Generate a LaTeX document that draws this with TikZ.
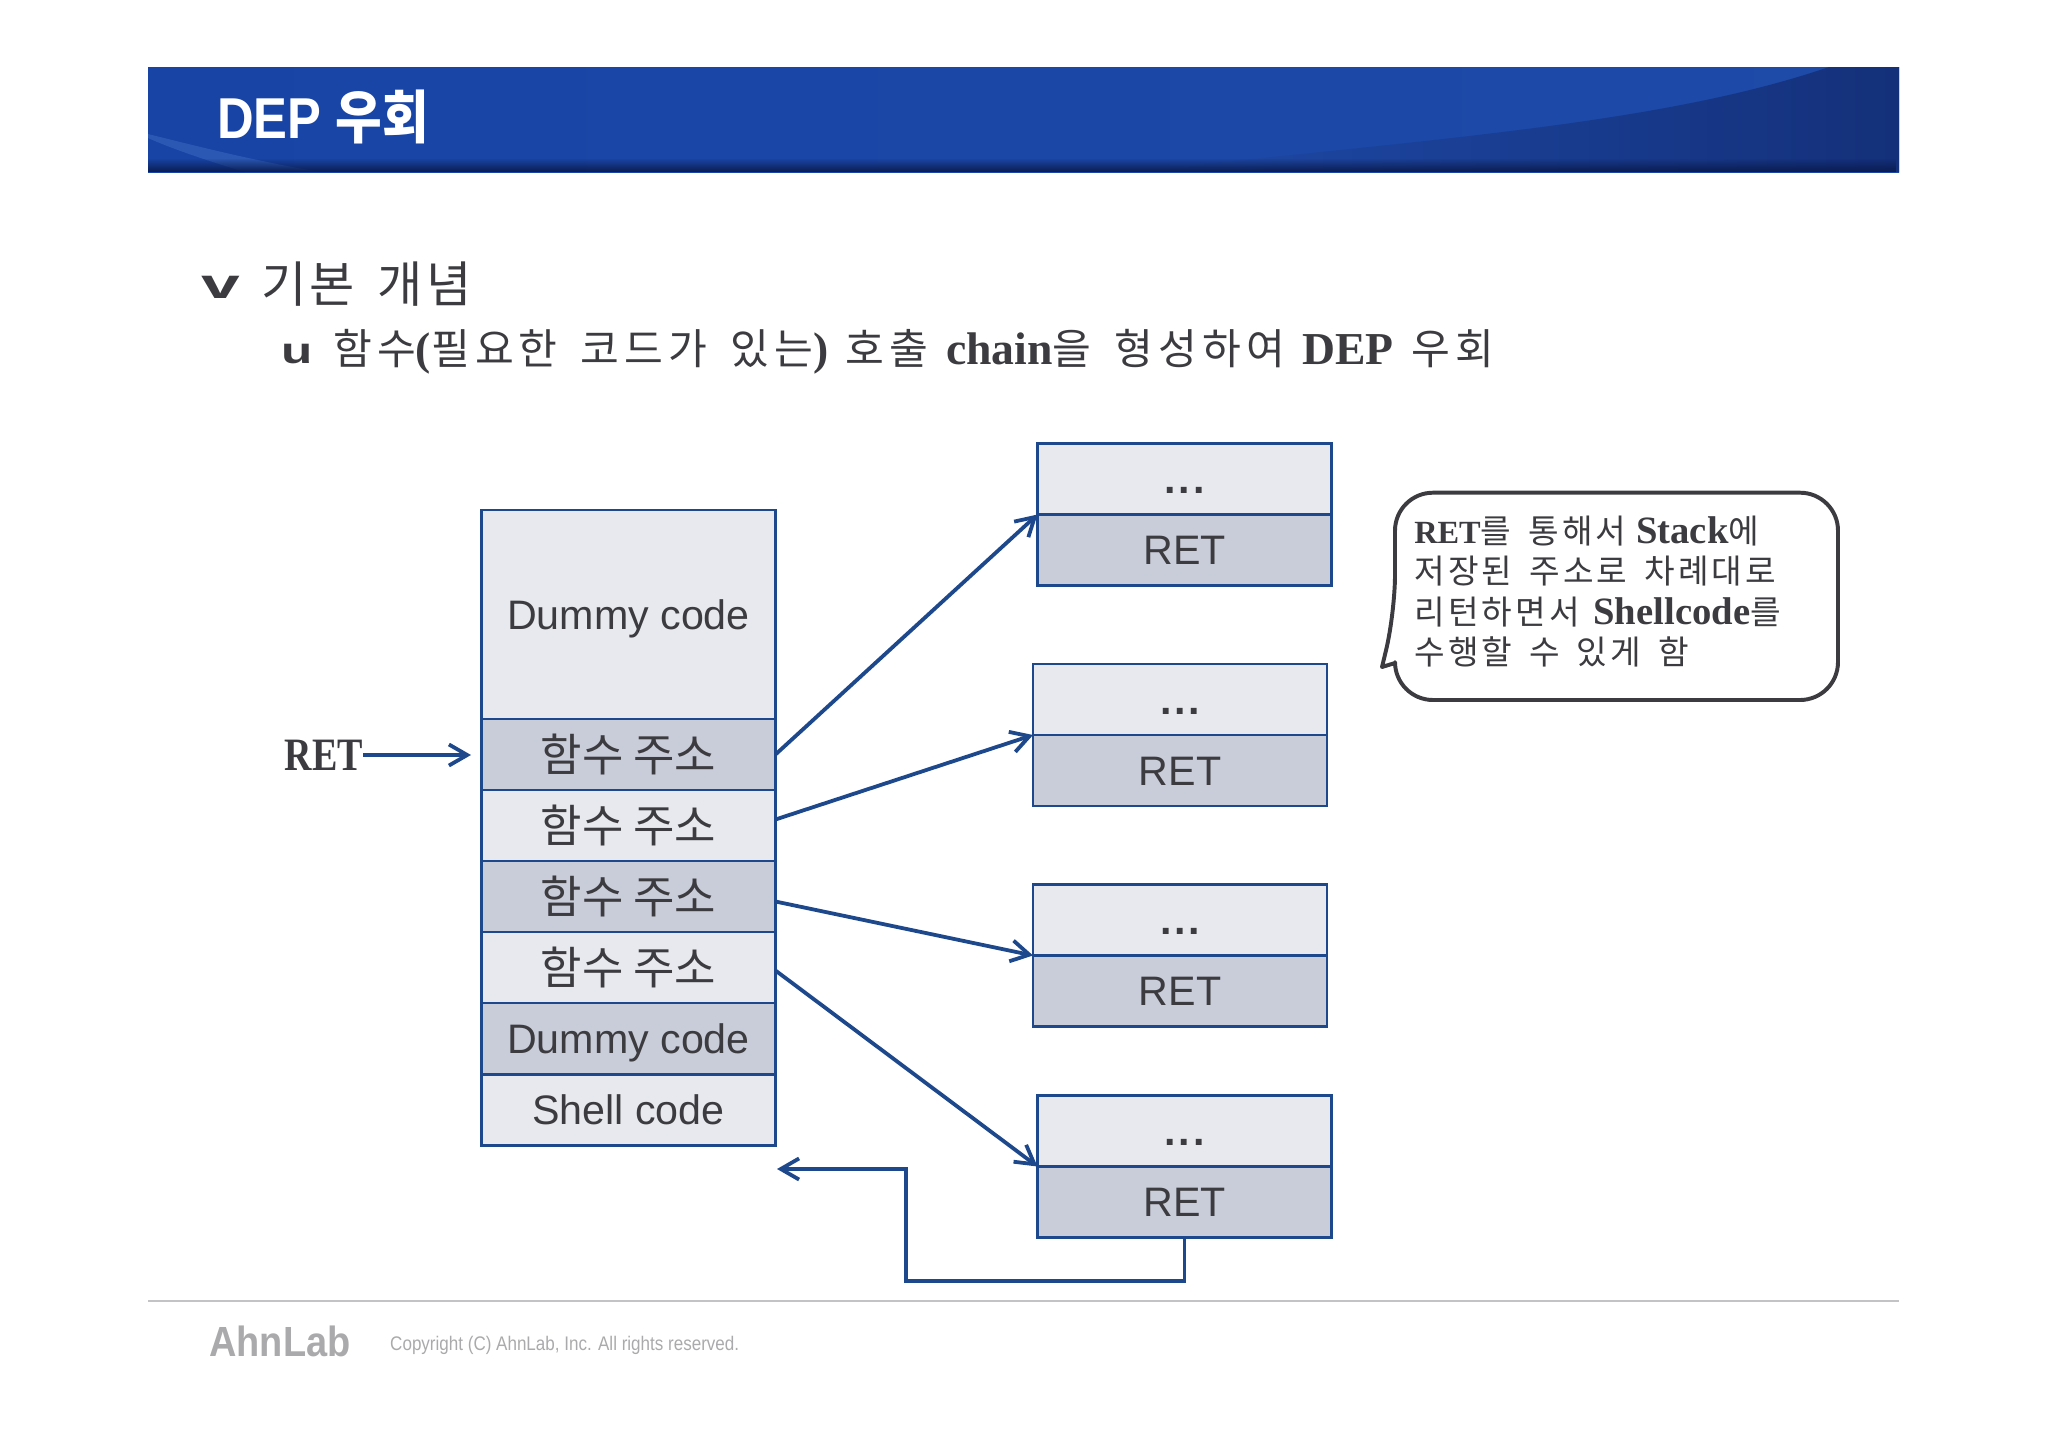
\documentclass[tikz,border=0pt]{standalone}
\usepackage{fontspec}
\usepackage{xcolor}
\usepackage{tikz}
\usetikzlibrary{arrows.meta, calc, fadings}
\setmainfont{Liberation Serif}
\setsansfont{Liberation Sans}
\newfontfamily\kotopic[LetterSpace=6.5,WordSpace=1.6]{Noto Sans CJK KR}
\newfontfamily\kosub[Scale=0.923,LetterSpace=12,WordSpace=1.6]{Noto Sans CJK KR}
\newfontfamily\konote[Scale=0.86,LetterSpace=9.5,WordSpace=1.6]{Noto Sans CJK KR}
\newfontfamily\kortight{Noto Sans CJK KR}
\newcommand{\kos}[1]{{\kosub\mdseries #1}}
\newcommand{\kon}[1]{{\konote\mdseries #1}}
\definecolor{hdrleft}{RGB}{24,68,166}
\definecolor{hdrmid}{RGB}{30,74,168}
\definecolor{hdrdark}{RGB}{20,48,122}
\definecolor{hdrbot}{RGB}{10,28,80}
\definecolor{hdrglow}{RGB}{70,120,200}
\definecolor{edgeblue}{RGB}{30,72,140}
\definecolor{inkgray}{RGB}{60,60,64}
\definecolor{cellpale}{RGB}{232,233,238}
\definecolor{celldark}{RGB}{201,205,217}
\definecolor{logogray}{RGB}{170,170,172}

\begin{document}
\begin{tikzpicture}[x=0.025cm, y=-0.025cm, >={Straight Barb[length=13pt,width=15pt]}]
  \tikzstyle{cellbox} = [rectangle, draw=edgeblue, line width=1.8pt, outer sep=0pt, inner sep=0pt, minimum width=294*0.711pt, text height=21pt, text depth=0pt, font=\fontsize{29.3}{32}\sffamily\color{inkgray}]
  \tikzstyle{pale} = [cellbox, fill=cellpale]
  \tikzstyle{dark} = [cellbox, fill=celldark]
  \tikzstyle{link} = [->, line width=2.7pt, edgeblue]
  \tikzstyle{funclabel} = [font=\fontsize{32}{34}\color{inkgray}]
  \useasboundingbox (0,0) rectangle (2048,1447);

  % Header band
  \begin{scope}
    \clip (148,67) rectangle (1899,172);
    \shade[left color=hdrleft, right color=hdrmid] (148,67) rectangle (1899,172);
    \shade[left color=hdrmid, right color=hdrdark] (1130,172) .. controls (1420,140) and (1660,125) .. (1829,67) -- (1899,67) -- (1899,172) -- cycle;
    \fill[hdrglow, opacity=0.4] (148,134) .. controls (200,147) and (260,162) .. (320,172) -- (245,172) .. controls (205,160) and (170,148) .. (148,138) -- cycle;
    \fill[hdrbot, path fading=north] (148,158) rectangle (1899,172);
  \end{scope}
  \node [anchor=west, xscale=0.88, text=white, inner sep=0pt, font=\fontsize{41}{43}\sffamily\bfseries] (title) at (217,117) {DEP {\kortight\bfseries 우회}};

  % Bullet lines
  \node [anchor=center, xscale=1.65, text=inkgray, inner sep=0pt, font=\fontsize{30}{32}\sffamily\bfseries] (bullet1) at (221,287) {v};
  \node [anchor=west, text=inkgray, inner sep=0pt, font=\fontsize{35}{38}] (topic) at (261,284) {\kotopic 기본 개념};
  \node [anchor=center, xscale=1.4, text=inkgray, inner sep=0pt, font=\fontsize{26}{28}\sffamily\bfseries] (bullet2) at (297,354) {u};
  \node [anchor=west, text=inkgray, inner sep=0pt, font=\fontsize{32.5}{34}\bfseries] (subtopic) at (333,352) {\kos{함수}(\kos{필요한 코드가 있는})\hspace{0.38em}\kos{호출}\hspace{0.38em}chain\kos{을 형성하여}\hspace{0.38em}DEP\hspace{0.38em}\kos{우회}};

  % Stack column
  \node [pale, minimum height=209*0.711pt] (dummy) at (628.5,614.5) {Dummy code};
  \node [dark, minimum height=71*0.711pt] (func1) at (628.5,754.5) {};
  \node [pale, minimum height=71*0.711pt] (func2) at (628.5,825.5) {};
  \node [dark, minimum height=71*0.711pt] (func3) at (628.5,896.5) {};
  \node [pale, minimum height=71*0.711pt] (func4) at (628.5,967.5) {};
  \node [dark, minimum height=71*0.711pt] (dummy2) at (628.5,1038.5) {Dummy code};
  \node [pale, minimum height=71*0.711pt] (shell) at (628.5,1110) {Shell code};
  \node [funclabel] (label1) at (func1) {\kortight 함수 주소};
  \node [funclabel] (label2) at (func2) {\kortight 함수 주소};
  \node [funclabel] (label3) at (func3) {\kortight 함수 주소};
  \node [funclabel] (label4) at (func4) {\kortight 함수 주소};

  % Right column
  \node [pale, minimum height=71*0.711pt] (dots1) at (1184.5,479) {\bfseries .\kern2pt.\kern2pt.};
  \node [dark, minimum height=71*0.711pt] (ret1) at (1184.5,550) {RET};
  \node [pale, minimum height=71*0.711pt] (dots2) at (1180,699.5) {\bfseries .\kern2pt.\kern2pt.};
  \node [dark, minimum height=71*0.711pt] (ret2) at (1180,770.5) {RET};
  \node [pale, minimum height=71*0.711pt] (dots3) at (1180,920) {\bfseries .\kern2pt.\kern2pt.};
  \node [dark, minimum height=71*0.711pt] (ret3) at (1180,991) {RET};
  \node [pale, minimum height=71*0.711pt] (dots4) at (1184.5,1131) {\bfseries .\kern2pt.\kern2pt.};
  \node [dark, minimum height=71*0.711pt] (ret4) at (1184.5,1202) {RET};

  % RET pointer
  \node [anchor=east, xscale=0.82, text=inkgray, inner sep=0pt, font=\fontsize{33}{35}\bfseries] (retlabel) at (363,755) {RET};
  \coordinate (retpoint) at (471,755);
  \draw[link] (retlabel.east) -- (retpoint);

  % Arrows to the frames
  \draw[link] (func1.east) -- (dots1.south west);
  \draw[link] ($(func2.east)+(0,-6)$) -- (dots2.south west);
  \draw[link] ($(func3.east)+(0,5)$) -- (dots3.south west);
  \draw[link] ($(func4.east)+(0,3)$) -- (dots4.south west);

  % Return to the shell code
  \coordinate (turn) at (906,1281);
  \coordinate (backin) at (777,1169);
  \draw[link] (ret4.south) |- (turn) |- (backin);

  % Callout
  \draw[line width=2.8pt, inkgray, line join=round, fill=white] (1395,613) -- (1382,667) -- (1395,663) [rounded corners=27pt] -- (1395,700) -- (1838,700) -- (1838,492.7) -- (1395,492.7) -- cycle;
  \node [anchor=north west, align=left, text=inkgray, inner sep=0pt, font=\fontsize{27.5}{28.8}\bfseries] (note) at (1414,515.5) {{\fontsize{23}{28.8}\selectfont RET}\kon{를 통해서} Stack\kon{에}\\\kon{저장된 주소로 차례대로}\\\kon{리턴하면서}\hspace{0.35em}Shellcode\kon{를}\\\kon{수행할 수 있게 함}};

  % Footer
  \draw[line width=1.2pt, color=logogray!70] (148,1301) -- (1899,1301);
  \node [anchor=west, xscale=0.9, text=logogray, inner sep=0pt, font=\fontsize{30}{32}\sffamily\bfseries] (logo) at (209,1341) {AhnLab};
  \node [anchor=west, xscale=0.865, text=logogray, inner sep=0pt, font=\fontsize{14}{16}\sffamily] (copyright) at (390,1345) {Copyright (C) AhnLab, Inc. All rights reserved.};
\end{tikzpicture}
\end{document}
